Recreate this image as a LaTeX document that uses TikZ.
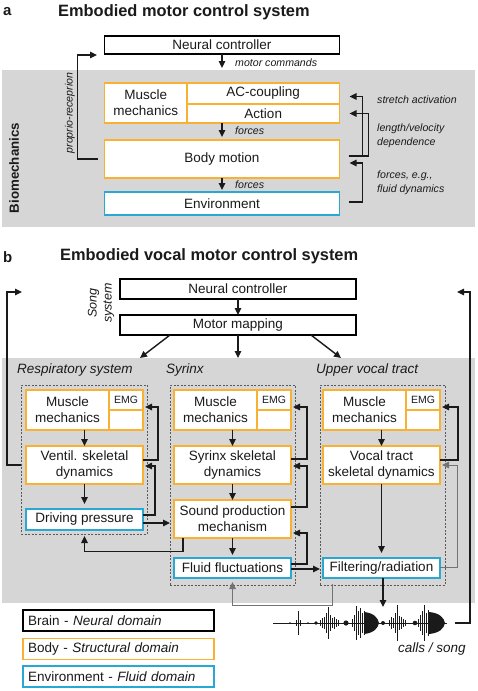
\documentclass[tikz,border=0pt]{standalone}
\usepackage{fontspec}
\setmainfont{Liberation Sans}
\usetikzlibrary{arrows.meta}
\definecolor{bodyc}{HTML}{F8B133}
\definecolor{envc}{HTML}{29A8D4}
\definecolor{bgc}{HTML}{D6D6D6}
\definecolor{txt}{HTML}{1A1A1A}
\newcommand{\fmain}{\fontsize{13.5}{16}\selectfont}
\newcommand{\fsmall}{\fontsize{10.6}{14}\selectfont\itshape}
\begin{document}
\begin{tikzpicture}[x=1pt,y=-1pt,
  bx/.style={draw, line width=1.5pt, fill=white, inner sep=0pt, outer sep=0pt, align=center, font=\fmain, text=txt},
  brain/.style={bx, draw=black},
  body/.style={bx, draw=bodyc},
  envb/.style={bx, draw=envc},
  arr/.style={line width=1.4pt, draw=txt, -{Triangle[length=7pt,width=6.5pt]}},
  garr/.style={line width=0.9pt, draw=black!55, -{Triangle[length=7pt,width=6.5pt]}},
  lab/.style={font=\fsmall, text=txt, inner sep=0pt, anchor=west},
  sec/.style={font=\fmain\itshape, text=txt, inner sep=0pt, anchor=west},
  dbox/.style={draw=black!65, dash pattern=on 2pt off 1.5pt, line width=0.8pt, inner sep=0pt, outer sep=0pt},
  emgc/.style={body, font=\fontsize{10.5}{12}\selectfont},
  legend/.style={bx, align=left, inner xsep=5pt, text width=181pt, minimum height=21pt},
]
\useasboundingbox (0,0) rectangle (477,691);
\fill[white] (0,0) rectangle (477,691);
% backgrounds
\fill[bgc] (2,70) rectangle (475,227);
\fill[bgc] (2,358) rectangle (475,603);

% ---------------- part a ----------------
\node[font=\bfseries\fontsize{15}{18}\selectfont, text=txt, inner sep=0pt, anchor=west] (la) at (3,12) {a};
\node[font=\bfseries\fontsize{16.4}{19}\selectfont, text=txt, inner sep=0pt, anchor=west] (ta) at (58,12) {Embodied motor control system};

\node[brain, minimum width=235pt, minimum height=18pt] (nca) at (222,45) {Neural controller};
\node[body, minimum width=82.5pt, minimum height=40pt] (mma) at (145.75,103) {Muscle\\mechanics};
\node[body, minimum width=152.5pt, minimum height=21pt] (ac) at (263.25,93.5) {AC-coupling};
\node[body, minimum width=152.5pt, minimum height=19pt] (act) at (263.25,113.5) {Action};
\node[body, minimum width=235pt, minimum height=38pt] (bm) at (222,159) {Body motion};
\node[envb, minimum width=235pt, minimum height=23pt] (env) at (222,203.5) {Environment};

\coordinate (mc) at (222,68);
\coordinate (pra) at (97,55);
\draw[arr] (nca.south) -- (mc);
\node[lab] (lmc) at (235,63) {motor commands};
\draw[arr, shorten >=3pt] (bm.north |- mma.south) -- (bm.north);
\node[lab] (lf1) at (235,131) {forces};
\draw[arr, shorten >=2pt] (bm.south) -- (env.north);
\node[lab] (lf2) at (235,185) {forces};

\draw[arr] ([xshift=-7pt]bm.west) -- ++(-20,0) |- (pra);
\node[font=\fsmall, text=txt, inner sep=0pt, rotate=90] (lpr) at (70,113) {proprio-receprion};
\node[font=\bfseries\fontsize{13.3}{16}\selectfont, text=txt, inner sep=0pt, rotate=90] (lbio) at (14,168) {Biomechanics};

\draw[arr] ([xshift=9pt,yshift=3pt]bm.east) -| ([xshift=23pt,yshift=-3pt]ac.east) -- ([xshift=10pt,yshift=-3pt]ac.east);
\draw[arr] ([xshift=9pt,yshift=3pt]bm.east) -| ([xshift=29pt]act.east) -- ([xshift=10pt]act.east);
\draw[arr] ([xshift=9pt,yshift=1.5pt]env.east) -| ([xshift=23pt,yshift=-4pt]bm.east) -- ([xshift=10pt,yshift=-4pt]bm.east);
\node[lab] (lsa) at (377,100) {stretch activation};
\node[lab, align=left] (llv) at (377,136) {length/velocity\\dependence};
\node[lab, align=left] (lfd) at (377,183) {forces, e.g.,\\fluid dynamics};

% ---------------- part b ----------------
\node[font=\bfseries\fontsize{15}{18}\selectfont, text=txt, inner sep=0pt, anchor=west] (lb) at (3,257) {b};
\node[font=\bfseries\fontsize{16.4}{19}\selectfont, text=txt, inner sep=0pt, anchor=west] (tb) at (60,256) {Embodied vocal motor control system};

\node[brain, minimum width=236pt, minimum height=20pt] (ncb) at (238,289) {Neural controller};
\node[brain, minimum width=236pt, minimum height=20pt] (mmap) at (238,325) {Motor mapping};
\node[font=\fontsize{12.5}{15}\selectfont\itshape, text=txt, inner sep=0pt, align=center, rotate=90] (song) at (101,303) {Song\\system};
\draw[arr] (ncb) -- (mmap);
\coordinate (t1) at (140,358);
\coordinate (t2) at (238,358);
\coordinate (t3) at (341,358);
\draw[arr] ([xshift=-68pt]mmap.south) -- (t1);
\draw[arr] (mmap.south) -- (t2);
\draw[arr] ([xshift=73pt]mmap.south) -- (t3);

\node[sec] (lrs) at (17,370) {Respiratory system};
\node[sec] (lsy) at (166,370) {Syrinx};
\node[sec] (luv) at (316,370) {Upper vocal tract};

\node[dbox, minimum width=126pt, minimum height=149pt] (rbox) at (84,459.5) {};
\node[dbox, minimum width=125pt, minimum height=200pt] (sbox) at (232.5,485) {};
\node[dbox, minimum width=125pt, minimum height=200pt] (ubox) at (382.5,485) {};

% respiratory
\node[body, minimum width=83pt, minimum height=40pt] (mmr) at (67.5,410) {Muscle\\mechanics};
\node[emgc, minimum width=34pt, minimum height=20pt] (emgr) at (126,400) {EMG};
\node[body, minimum width=34pt, minimum height=20pt] (e2r) at (126,420) {};
\node[body, minimum width=117pt, minimum height=38pt] (ven) at (84.5,465) {Ventil. skeletal\\dynamics};
\node[envb, minimum width=117pt, minimum height=21pt] (dp) at (84.5,519.5) {Driving pressure};

% syrinx
\node[body, minimum width=83pt, minimum height=40pt] (mms) at (215.5,410) {Muscle\\mechanics};
\node[emgc, minimum width=34pt, minimum height=20pt] (emgs) at (274,400) {EMG};
\node[body, minimum width=34pt, minimum height=20pt] (e2s) at (274,420) {};
\node[body, minimum width=117pt, minimum height=38pt] (syk) at (232.5,465) {Syrinx skeletal\\dynamics};
\node[body, minimum width=117pt, minimum height=38pt] (sp) at (232.5,519) {Sound production\\mechanism};
\node[envb, minimum width=117pt, minimum height=20pt] (ff) at (232.5,568) {Fluid fluctuations};

% upper vocal tract
\node[body, minimum width=83pt, minimum height=40pt] (mmu) at (364.5,410) {Muscle\\mechanics};
\node[emgc, minimum width=34pt, minimum height=20pt] (emgu) at (423,400) {EMG};
\node[body, minimum width=34pt, minimum height=20pt] (e2u) at (423,420) {};
\node[body, minimum width=117pt, minimum height=38pt] (vts) at (381.5,465) {Vocal tract\\skeletal dynamics};
\node[envb, minimum width=117pt, minimum height=20pt] (filt) at (381.5,568) {Filtering/radiation};

% respiratory connectors
\draw[arr] (ven.north |- mmr.south) -- (ven.north);
\draw[arr, shorten >=5pt] (ven) -- (dp);
\draw[arr] ([yshift=5pt]ven.east) -| ([xshift=15pt,yshift=-7pt]emgr.east) -- ([xshift=2pt,yshift=-7pt]emgr.east);
\draw[arr] ([yshift=4.5pt]dp.east) -| ([xshift=12pt,yshift=-1pt]ven.east) -- ([xshift=2pt,yshift=-1pt]ven.east);
\draw[arr, shorten >=4pt] ([yshift=-3.5pt]dp.east) -- ([yshift=-3.5pt]dp.east -| sp.west);
\draw[arr, shorten >=6pt] ([xshift=9pt]sp.south west) |- ([yshift=-21.5pt]dp.south) -- (dp.south);
\coordinate (prb) at (22,292);
\draw[arr] (rbox.west |- ven.west) -- ++(-14,0) |- (prb);

% syrinx connectors
\draw[arr] (syk.north |- mms.south) -- (syk.north);
\draw[arr] (syk) -- (sp);
\draw[arr, shorten >=3pt] (sp) -- (ff);
\draw[arr] ([yshift=6pt]syk.east) -| ([xshift=16pt,yshift=-7pt]emgs.east) -- ([xshift=2pt,yshift=-7pt]emgs.east);
\draw[arr] ([yshift=12pt]sp.east) -| ([xshift=16pt,yshift=-1pt]syk.east) -- ([xshift=2pt,yshift=-1pt]syk.east);
\draw[arr] ([yshift=4pt]ff.east) -| ([xshift=16pt,yshift=-14pt]sp.east) -- ([xshift=2pt,yshift=-14pt]sp.east);
\draw[arr, shorten >=3pt] ([yshift=-1pt]ff.east) -- ([yshift=-1pt]ff.east -| filt.west);
\draw[garr, shorten >=4pt, shorten <=6pt] ([xshift=9pt]filt.south west) |- ([yshift=-27pt]ff.south) -- (ff.south);

% upper vocal tract connectors
\draw[arr] (vts.north |- mmu.south) -- (vts.north);
\draw[arr, shorten >=5pt] (vts) -- (filt);
\draw[arr] ([yshift=5pt]vts.east) -| ([xshift=18pt,yshift=-7pt]emgu.east) -- ([xshift=2pt,yshift=-7pt]emgu.east);
\draw[garr] ([yshift=1pt]filt.east) -| ([xshift=17pt]vts.east) -- ([xshift=2pt]vts.east);
\coordinate (wtop) at (383,607);
\draw[arr] ([xshift=1.5pt]filt.south) -- (wtop);

% waveform
\draw[line width=0.7pt, txt] (273,623) -- (447,623);
\foreach \x/\h in {298/12,296/3,300/3,
  320/3,322/5,324/6,326/10,328/16,330/8,332/5,334/6,336/4,338/3,
  352/4,354/8,356/17,358/12,360/15,362/10,364/12,
  389/3,391/6,393/5,395/10,397/18,399/7,401/6,403/4,405/3,
  418/4,420/8,422/12,424/18,426/10,428/13}
  \draw[line width=0.9pt, txt] (\x,{623-\h}) -- (\x,{623+\h});
\fill[txt] (364,612) .. controls (374,613) and (378,618) .. (379,623) .. controls (378,628) and (374,633) .. (364,634) -- cycle;
\fill[txt] (429,612) .. controls (440,613) and (444,618) .. (445,623) .. controls (444,628) and (440,633) .. (429,634) -- cycle;
\foreach \x/\r in {290/0.8,308/0.8,316/1.8,346/2.6,383/2,415/2.3}
  \fill[txt] (\x,623) circle[radius=\r];
\coordinate (wend) at (455,623);
\coordinate (ce) at (457,292);
\draw[arr] (wend) -- ++(15,0) |- (ce);
\node[font=\fmain\itshape, text=txt, inner sep=0pt] (lcs) at (432,649) {calls / song};

% legend
\node[legend, draw=black] (lg1) at (118.5,620.5) {Brain - \textit{Neural domain}};
\node[legend, draw=bodyc] (lg2) at (118.5,649) {Body - \textit{Structural domain}};
\node[legend, draw=envc] (lg3) at (118.5,676.5) {Environment - \textit{Fluid domain}};
\end{tikzpicture}
\end{document}
